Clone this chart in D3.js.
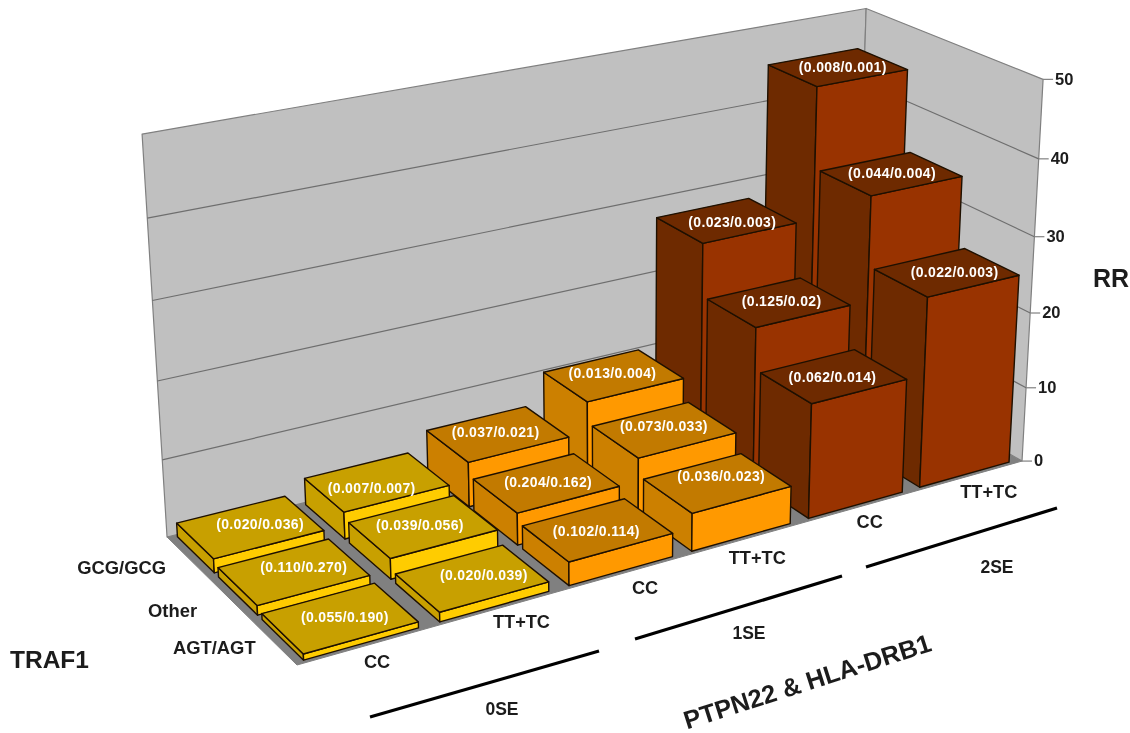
<!DOCTYPE html>
<html>
<head>
<meta charset="utf-8">
<title>RR by TRAF1, PTPN22 and HLA-DRB1</title>
<script src="https://cdn.jsdelivr.net/npm/d3@7"></script>
<style>
  body { margin: 0; background: #fff; }
  svg { filter: blur(0.35px); }
  text { font-family: "Liberation Sans", Arial, sans-serif; font-weight: bold; fill: #1c1c1c; }
</style>
</head>
<body>
<div id="chart"></div>
<script>
// Data
const genotypes = ["CC", "TT+TC", "CC", "TT+TC", "CC", "TT+TC"];
const seGroups = ["0SE", "0SE", "1SE", "1SE", "2SE", "2SE"];
const traf1 = ["AGT/AGT", "Other", "GCG/GCG"];
const rrAGT = [0.75, 1.2, 3, 4.9, 15, 25.1];
const rrOther = [1.2, 2.65, 4.15, 7.2, 20.5, 34.3];
const rrGCG = [1.8, 3.5, 5.9, 10, 27.5, 45];
const freqAGT = ["(0.055/0.190)", "(0.020/0.039)", "(0.102/0.114)", "(0.036/0.023)", "(0.062/0.014)", "(0.022/0.003)"];
const freqOther = ["(0.110/0.270)", "(0.039/0.056)", "(0.204/0.162)", "(0.073/0.033)", "(0.125/0.02)", "(0.044/0.004)"];
const freqGCG = ["(0.020/0.036)", "(0.007/0.007)", "(0.037/0.021)", "(0.013/0.004)", "(0.023/0.003)", "(0.008/0.001)"];
const rrTicks = [0, 10, 20, 30, 40, 50];

const rows = [rrAGT, rrOther, rrGCG];
const freqRows = [freqAGT, freqOther, freqGCG];

const width = 1130;
const height = 733;

const svg = d3.select("#chart")
  .append("svg")
  .attr("width", width)
  .attr("height", height);

// Box coordinates run 0..1: x along the front edge, y going back, z going up.
const xScale = d3.scaleBand()
  .domain(d3.range(genotypes.length))
  .range([0, 1])
  .paddingInner(0.16)
  .paddingOuter(0.08)
  .align(0.4);

const yScale = d3.scaleBand()
  .domain(traf1)
  .range([0, 1])
  .paddingInner(0.1)
  .paddingOuter(0.05);

const zScale = d3.scaleLinear()
  .domain([0, 50])
  .range([0, 1]);

// Perspective camera: front floor corner plus the three vanishing points
const origin = [297, 665];
const vpX = [5470, -790, 0.163];
const vpY = [-1217, -826, 0.0939];
const vpZ = [617, 7800, -0.0575];

function project(x, y, z) {
  const w = 1 + vpX[2] * x + vpY[2] * y + vpZ[2] * z;
  return [
    (origin[0] + vpX[0] * vpX[2] * x + vpY[0] * vpY[2] * y + vpZ[0] * vpZ[2] * z) / w,
    (origin[1] + vpX[1] * vpX[2] * x + vpY[1] * vpY[2] * y + vpZ[1] * vpZ[2] * z) / w
  ];
}

const polygon = d3.line().curve(d3.curveLinearClosed);

function face(points, fill, stroke, strokeWidth) {
  svg.append("path")
    .attr("d", polygon(points.map(p => project(p[0], p[1], p[2]))))
    .attr("fill", fill)
    .attr("stroke", stroke)
    .attr("stroke-width", strokeWidth)
    .attr("stroke-linejoin", "round");
}

function segment(a, b, stroke, strokeWidth) {
  const p = project(a[0], a[1], a[2]);
  const q = project(b[0], b[1], b[2]);
  svg.append("line")
    .attr("x1", p[0]).attr("y1", p[1])
    .attr("x2", q[0]).attr("y2", q[1])
    .attr("stroke", stroke)
    .attr("stroke-width", strokeWidth);
}

// Walls and floor
face([[0, 0, 0], [1, 0, 0], [1, 1, 0], [0, 1, 0]], "#808080", "#808080", 1);
face([[0, 1, 0], [1, 1, 0], [1, 1, 1], [0, 1, 1]], "#c0c0c0", "#808080", 1.2);
face([[1, 1, 0], [1, 0, 0], [1, 0, 1], [1, 1, 1]], "#c0c0c0", "#808080", 1.2);

// Gridlines on both walls and the ticks on the right edge
rrTicks.forEach(t => {
  const z = zScale(t);
  if (t > 0 && t < 50) {
    segment([0, 1, z], [1, 1, z], "#6e6e6e", 1.2);
    segment([1, 1, z], [1, 0, z], "#6e6e6e", 1.2);
  }
  const p = project(1, 0, z);
  svg.append("line")
    .attr("x1", p[0]).attr("y1", p[1])
    .attr("x2", p[0] + 10).attr("y2", p[1])
    .attr("stroke", "#808080")
    .attr("stroke-width", 1.2);
  svg.append("text")
    .attr("x", p[0] + 12)
    .attr("y", p[1] + 1)
    .attr("dominant-baseline", "middle")
    .attr("font-size", 16.5)
    .text(t);
});

// Bar colours per SE group: front face, left face, top
const barColors = {
  "0SE": {front: "#ffcc00", left: "#c8a000", top: "#c8a000"},
  "1SE": {front: "#ff9900", left: "#cc8000", top: "#c27a00"},
  "2SE": {front: "#993300", left: "#6e2a00", top: "#6e2a00"}
};

// The frequency labels were placed by hand in the original: offsets from the top's centre
const freqNudge = [
  [[5, 1], [12, -2], [-1, 3], [4, -6], [-1, 2], [8, 1]],
  [[10, -3], [-3, 0], [2, 1], [0, -2], [3, 0], [1, 1]],
  [[10, -1], [-5, 7], [-2, -1], [-1, -1], [6, 3], [5, 1]]
];

// Painter's order: right to left, back to front
const bars = [];
genotypes.forEach((g, i) => {
  traf1.forEach((t, j) => {
    bars.push({col: i, row: j, traf: t, group: seGroups[i], rr: rows[j][i], freq: freqRows[j][i]});
  });
});
bars.sort((a, b) => d3.descending(a.col, b.col) || d3.descending(a.row, b.row));

bars.forEach(d => {
  const x0 = xScale(d.col);
  const x1 = x0 + xScale.bandwidth();
  const y0 = yScale(d.traf);
  const y1 = y0 + yScale.bandwidth();
  const z = zScale(d.rr);
  const c = barColors[d.group];
  const edge = "#1e1000";

  face([[x0, y0, 0], [x0, y1, 0], [x0, y1, z], [x0, y0, z]], c.left, edge, 1.4);
  face([[x0, y0, 0], [x1, y0, 0], [x1, y0, z], [x0, y0, z]], c.front, edge, 1.4);
  face([[x0, y0, z], [x1, y0, z], [x1, y1, z], [x0, y1, z]], c.top, edge, 1.4);

  const mid = project((x0 + x1) / 2, (y0 + y1) / 2, z);
  const nudge = freqNudge[d.row][d.col];
  svg.append("text")
    .attr("x", mid[0] + nudge[0])
    .attr("y", mid[1] + nudge[1])
    .attr("text-anchor", "middle")
    .attr("dominant-baseline", "middle")
    .attr("font-size", 14)
    .attr("letter-spacing", 0.35)
    .style("fill", "#fff")
    .text(d.freq);
});

// Genotype labels under the front edge
const genotypeNudge = [[13, 17], [24, 15], [21, 16], [13, 20], [11, 16], [21, 17]];
genotypes.forEach((g, i) => {
  const p = project(xScale(i) + xScale.bandwidth() / 2, 0, 0);
  svg.append("text")
    .attr("x", p[0] + genotypeNudge[i][0])
    .attr("y", p[1] + genotypeNudge[i][1])
    .attr("text-anchor", "middle")
    .attr("dominant-baseline", "middle")
    .attr("font-size", 18.2)
    .text(g);
});

// TRAF1 labels along the left edge
const trafNudge = [[-18, 7], [-32, 14], [-21, 12]];
traf1.forEach((t, j) => {
  const p = project(0, yScale(t) + yScale.bandwidth() / 2, 0);
  svg.append("text")
    .attr("x", p[0] + trafNudge[j][0])
    .attr("y", p[1] + trafNudge[j][1])
    .attr("text-anchor", "end")
    .attr("dominant-baseline", "middle")
    .attr("font-size", 18.4)
    .text(t);
});

// SE group brackets and titles
const brackets = [
  {label: "0SE", line: [370, 717, 599, 651], text: [502, 710]},
  {label: "1SE", line: [635, 639, 842, 576], text: [749, 634]},
  {label: "2SE", line: [866, 567, 1057, 508], text: [997, 568]}
];
brackets.forEach(b => {
  svg.append("line")
    .attr("x1", b.line[0]).attr("y1", b.line[1])
    .attr("x2", b.line[2]).attr("y2", b.line[3])
    .attr("stroke", "#000")
    .attr("stroke-width", 3.2);
  svg.append("text")
    .attr("x", b.text[0])
    .attr("y", b.text[1])
    .attr("text-anchor", "middle")
    .attr("dominant-baseline", "middle")
    .attr("font-size", 17.5)
    .text(b.label);
});

svg.append("text").attr("x", 10).attr("y", 668).attr("font-size", 24.5).text("TRAF1");
svg.append("text").attr("x", 1093).attr("y", 287).attr("font-size", 25).text("RR");
svg.append("text")
  .attr("transform", "translate(810,690) rotate(-17.8)")
  .attr("text-anchor", "middle")
  .attr("font-size", 25.4)
  .text("PTPN22 & HLA-DRB1");
</script>
</body>
</html>
